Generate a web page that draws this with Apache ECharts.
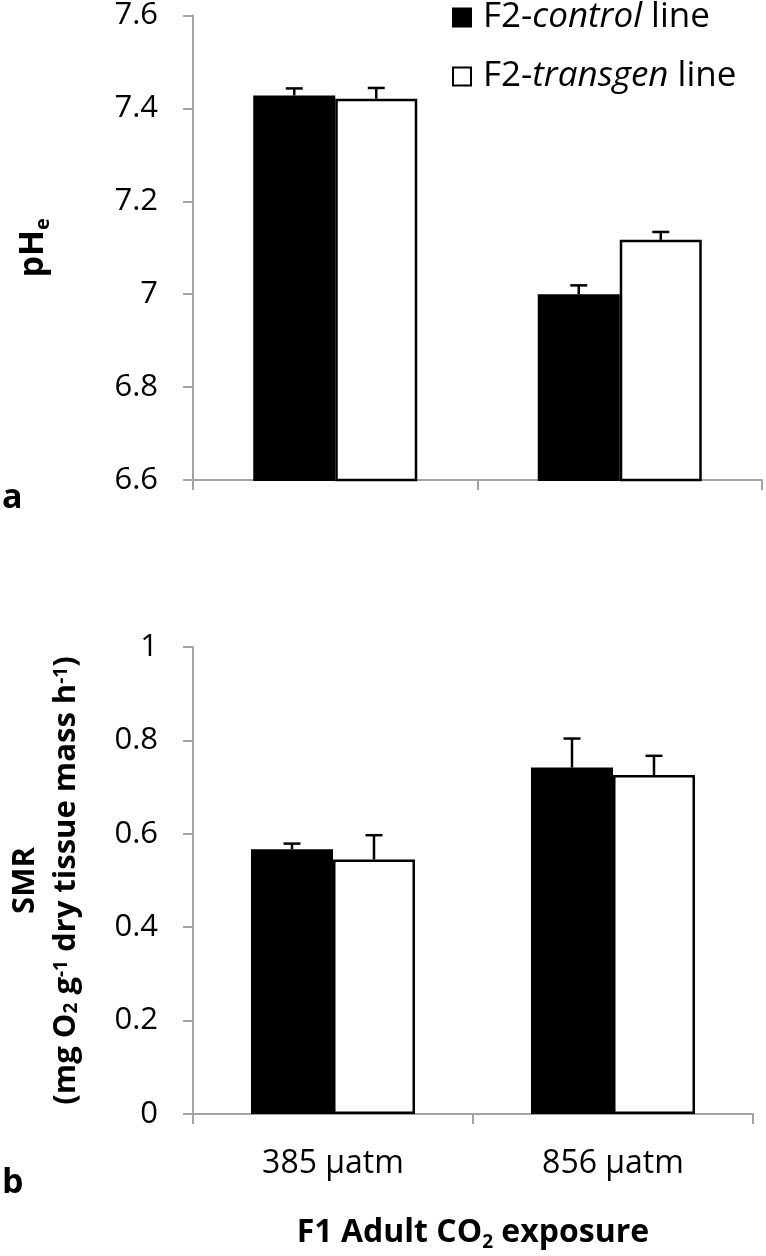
<!DOCTYPE html>
<html>
<head>
<meta charset="utf-8">
<script src="https://cdn.jsdelivr.net/npm/echarts@6/dist/echarts.min.js"></script>
<style>
html,body{margin:0;padding:0;background:#fff;}
#chart{width:766px;height:1256px;}
</style>
</head>
<body>
<div id="chart"></div>
<script>
// ---- data ----
const categories = ['385 µatm', '856 µatm'];
const seriesNames = ['F2-control line', 'F2-transgen line'];
// panel a: pHe
const pheControl = [7.428, 7.000];
const pheControlErr = [0.015, 0.019];
const pheTransgen = [7.421, 7.117];
const pheTransgenErr = [0.023, 0.017];
// panel b: SMR
const smrControl = [0.567, 0.742];
const smrControlErr = [0.012, 0.062];
const smrTransgen = [0.545, 0.726];
const smrTransgenErr = [0.052, 0.041];
// axis ticks
const pheTicks = [6.6, 6.8, 7.0, 7.2, 7.4, 7.6];
const smrTicks = [0, 0.2, 0.4, 0.6, 0.8, 1.0];

const FONT = 'Open Sans';
const AXIS_GREY = '#a3a3a3';
const BAR_W = 82;

function errData(vals, errs) {
  return vals.map((v, i) => [i, v, errs[i]]);
}
function errRender(offset) {
  return function (params, api) {
    const c = api.value(0), v = api.value(1), e = api.value(2);
    const p0 = api.coord([c, v]);
    const p1 = api.coord([c, v + e]);
    const x = p0[0] + offset;
    const style = { stroke: '#000', lineWidth: 2.5 };
    return {
      type: 'group',
      children: [
        { type: 'line', shape: { x1: x, y1: p0[1], x2: x, y2: p1[1] }, style: style },
        { type: 'line', shape: { x1: x - 8.5, y1: p1[1], x2: x + 8.5, y2: p1[1] }, style: style }
      ]
    };
  };
}
function fmt(v) { return String(Math.round(v * 10) / 10); }

const axisLineStyle = { show: true, lineStyle: { color: AXIS_GREY, width: 2 } };
const axisTickStyle = { show: true, length: 10, inside: false, lineStyle: { color: AXIS_GREY, width: 2 } };

const option = {
  animation: false,
  backgroundColor: '#fff',
  textStyle: { fontFamily: FONT },
  grid: [
    { left: 193, top: 14, width: 569, height: 466 },
    { left: 193, top: 647, width: 560, height: 467 }
  ],
  legend: {
    data: seriesNames,
    orient: 'vertical',
    left: 452,
    top: 0,
    padding: 0,
    itemWidth: 18,
    itemHeight: 18,
    itemGap: 24,
    icon: 'rect',
    textStyle: {
      fontFamily: FONT, fontSize: 35, color: '#000',
      rich: {
        n: { fontFamily: FONT, fontSize: 35, color: '#000', lineHeight: 36 },
        f: { fontFamily: FONT, fontSize: 35, color: '#000', lineHeight: 36, padding: [0, 0, 0, 7] },
        i: { fontFamily: FONT, fontSize: 35, color: '#000', lineHeight: 36, fontStyle: 'italic' }
      }
    },
    formatter: function (name) {
      const parts = name.split('-');
      const rest = parts[1].split(' ');
      return '{f|' + parts[0] + '-}{i|' + rest[0] + '}{n| ' + rest.slice(1).join(' ') + '}';
    }
  },
  xAxis: [
    {
      gridIndex: 0, type: 'category', data: categories,
      axisLine: axisLineStyle, axisTick: Object.assign({ interval: 0 }, axisTickStyle),
      axisLabel: { show: false }
    },
    {
      gridIndex: 1, type: 'category', data: categories,
      axisLine: axisLineStyle, axisTick: Object.assign({ interval: 0 }, axisTickStyle),
      axisLabel: { show: true, margin: 34, fontFamily: FONT, fontSize: 32, color: '#000' },
      name: '{b|F1 Adult CO}{s|2}{b| exposure}',
      nameLocation: 'middle',
      nameGap: 100,
      nameTextStyle: {
        rich: {
          b: { fontFamily: FONT, fontSize: 32, fontWeight: 'bold', color: '#000', lineHeight: 38, verticalAlign: 'middle' },
          s: { fontFamily: FONT, fontSize: 19, fontWeight: 'bold', color: '#000', lineHeight: 19, verticalAlign: 'bottom' }
        }
      }
    }
  ],
  yAxis: [
    {
      gridIndex: 0, type: 'value',
      min: pheTicks[0], max: pheTicks[pheTicks.length - 1],
      interval: Math.round((pheTicks[1] - pheTicks[0]) * 10) / 10,
      splitLine: { show: false },
      axisLine: axisLineStyle, axisTick: axisTickStyle,
      axisLabel: { margin: 35, fontFamily: FONT, fontSize: 31, color: '#000', formatter: fmt },
      name: '{b|pH}{s|e}',
      nameLocation: 'middle',
      nameGap: 140,
      nameRotate: 90,
      nameTextStyle: {
        rich: {
          b: { fontFamily: FONT, fontSize: 34, fontWeight: 'bold', color: '#000', lineHeight: 40, verticalAlign: 'middle' },
          s: { fontFamily: FONT, fontSize: 20, fontWeight: 'bold', color: '#000', lineHeight: 20, verticalAlign: 'bottom' }
        }
      }
    },
    {
      gridIndex: 1, type: 'value',
      min: smrTicks[0], max: smrTicks[smrTicks.length - 1],
      interval: Math.round((smrTicks[1] - smrTicks[0]) * 10) / 10,
      splitLine: { show: false },
      axisLine: axisLineStyle, axisTick: axisTickStyle,
      axisLabel: { margin: 35, fontFamily: FONT, fontSize: 31, color: '#000', formatter: fmt },
      name: '{b|SMR}\n{b|(mg O}{s|2}{b| g}{p|-1}{b| dry tissue mass h}{p|-1}{b|)}',
      nameLocation: 'middle',
      nameGap: 106,
      nameRotate: 90,
      nameTextStyle: {
        align: 'center',
        rich: {
          b: { fontFamily: FONT, fontSize: 31, fontWeight: 'bold', color: '#000', lineHeight: 41, verticalAlign: 'middle' },
          s: { fontFamily: FONT, fontSize: 19, fontWeight: 'bold', color: '#000', lineHeight: 19, verticalAlign: 'bottom', padding: [0, 0, 6, 0] },
          p: { fontFamily: FONT, fontSize: 19, fontWeight: 'bold', color: '#000', lineHeight: 19, verticalAlign: 'top', padding: [6, 0, 0, 0] }
        }
      }
    }
  ],
  series: [
    {
      name: seriesNames[0], type: 'bar', xAxisIndex: 0, yAxisIndex: 0,
      data: pheControl, barWidth: BAR_W, barGap: '0%', clip: true,
      itemStyle: { color: '#000', borderColor: '#000', borderWidth: 2 }
    },
    {
      name: seriesNames[1], type: 'bar', xAxisIndex: 0, yAxisIndex: 0,
      data: pheTransgen, barWidth: BAR_W, barGap: '0%', clip: true,
      itemStyle: { color: '#fff', borderColor: '#000', borderWidth: 2.5 }
    },
    {
      name: seriesNames[0], type: 'bar', xAxisIndex: 1, yAxisIndex: 1,
      data: smrControl, barWidth: BAR_W, barGap: '0%',
      itemStyle: { color: '#000', borderColor: '#000', borderWidth: 2 }
    },
    {
      name: seriesNames[1], type: 'bar', xAxisIndex: 1, yAxisIndex: 1,
      data: smrTransgen, barWidth: BAR_W, barGap: '0%',
      itemStyle: { color: '#fff', borderColor: '#000', borderWidth: 2.5 }
    },
    {
      type: 'custom', xAxisIndex: 0, yAxisIndex: 0, z: 5,
      data: errData(pheControl, pheControlErr), renderItem: errRender(-BAR_W / 2),
      encode: { x: 0, y: 1 }
    },
    {
      type: 'custom', xAxisIndex: 0, yAxisIndex: 0, z: 5,
      data: errData(pheTransgen, pheTransgenErr), renderItem: errRender(BAR_W / 2),
      encode: { x: 0, y: 1 }
    },
    {
      type: 'custom', xAxisIndex: 1, yAxisIndex: 1, z: 5,
      data: errData(smrControl, smrControlErr), renderItem: errRender(-BAR_W / 2),
      encode: { x: 0, y: 1 }
    },
    {
      type: 'custom', xAxisIndex: 1, yAxisIndex: 1, z: 5,
      data: errData(smrTransgen, smrTransgenErr), renderItem: errRender(BAR_W / 2),
      encode: { x: 0, y: 1 }
    }
  ],
  graphic: [
    { type: 'text', left: 2, top: 481, style: { text: 'a', fontFamily: FONT, fontSize: 34, fontWeight: 'bold', fill: '#000' } },
    { type: 'text', left: 2, top: 1166, style: { text: 'b', fontFamily: FONT, fontSize: 34, fontWeight: 'bold', fill: '#000' } }
  ]
};

const chart = echarts.init(document.getElementById('chart'), null, { renderer: 'canvas' });
chart.setOption(option);
</script>
</body>
</html>
